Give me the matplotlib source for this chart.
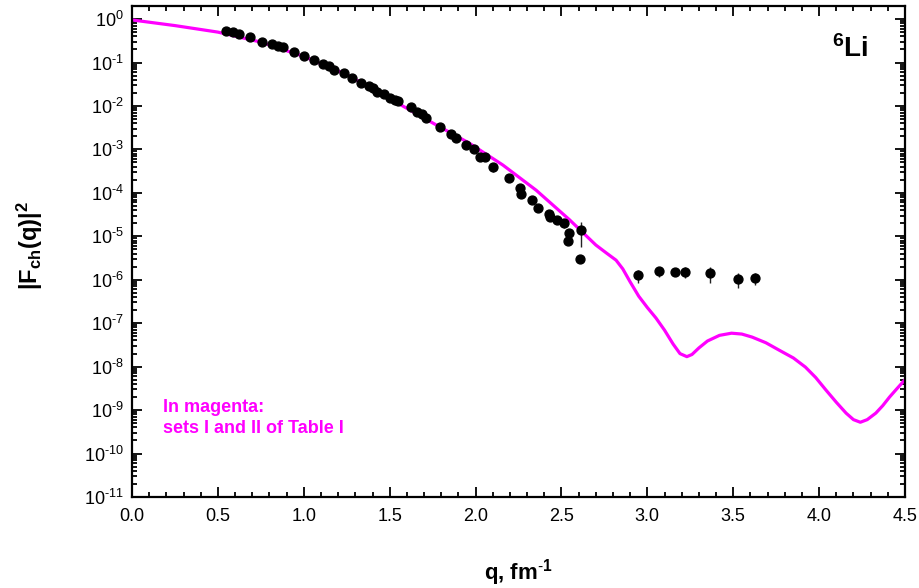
import matplotlib
matplotlib.use("Agg")
import matplotlib.pyplot as plt
import numpy as np
from matplotlib.ticker import FixedLocator, MultipleLocator, LogLocator, FuncFormatter, NullFormatter

plt.rcParams['font.family'] = ['Liberation Sans', 'DejaVu Sans']
plt.rcParams['mathtext.fontset'] = 'custom'
plt.rcParams['mathtext.rm'] = 'Liberation Sans'
plt.rcParams['mathtext.it'] = 'Liberation Sans:italic'
plt.rcParams['mathtext.bf'] = 'Liberation Sans:bold'
plt.rcParams['mathtext.default'] = 'regular'

# Theory curve (sets I and II of Table I), log10 |F|^2
curve_q = [0.00, 0.25, 0.50, 0.75, 1.00, 1.25, 1.50, 1.75, 1.965, 2.159, 2.353, 2.547,
           2.605, 2.70, 2.76, 2.818, 2.857, 2.90, 2.95, 3.00, 3.05, 3.10, 3.15, 3.19,
           3.23, 3.26, 3.30, 3.35, 3.42, 3.49, 3.55, 3.61, 3.69, 3.767, 3.85, 3.92,
           3.98, 4.04, 4.10, 4.157, 4.20, 4.24, 4.28, 4.33, 4.37, 4.41, 4.45, 4.50]
curve_log = [-0.02, -0.15, -0.30, -0.53, -0.86, -1.28, -1.83, -2.39, -2.86, -3.36, -3.94, -4.62,
             -4.84, -5.20, -5.38, -5.55, -5.75, -6.05, -6.38, -6.64, -6.88, -7.16, -7.48, -7.70,
             -7.77, -7.72, -7.57, -7.41, -7.28, -7.23, -7.25, -7.32, -7.45, -7.62, -7.80, -8.01,
             -8.25, -8.54, -8.82, -9.07, -9.22, -9.28, -9.22, -9.07, -8.90, -8.70, -8.52, -8.30]

# Experimental data, log10 |F|^2
data_q = [0.550, 0.589, 0.622, 0.688, 0.754, 0.816, 0.851, 0.880, 0.942, 1.000, 1.060, 1.109,
          1.147, 1.173, 1.235, 1.279, 1.331, 1.380, 1.403, 1.426, 1.465, 1.504, 1.529, 1.548,
          1.622, 1.659, 1.690, 1.709, 1.791, 1.859, 1.888, 1.946, 1.988, 2.027, 2.052, 2.101,
          2.194, 2.256, 2.266, 2.330, 2.362, 2.426, 2.434, 2.473, 2.517, 2.543, 2.539, 2.616,
          2.610, 2.944, 3.070, 3.163, 3.221, 3.366, 3.527, 3.628]
data_log = [-0.269, -0.307, -0.353, -0.422, -0.522, -0.575, -0.614, -0.652, -0.767, -0.844, -0.951, -1.036,
            -1.074, -1.174, -1.250, -1.350, -1.480, -1.535, -1.595, -1.673, -1.733, -1.825, -1.864, -1.887,
            -2.033, -2.133, -2.186, -2.286, -2.478, -2.647, -2.746, -2.900, -2.999, -3.169, -3.183, -3.399,
            -3.652, -3.897, -4.028, -4.166, -4.350, -4.488, -4.564, -4.626, -4.702, -4.932, -5.102, -4.856,
            -5.531, -5.892, -5.800, -5.815, -5.830, -5.853, -5.976, -5.961]

# Error bars (log10 of upper / lower ends)
err_q = [2.101, 2.517, 2.616, 2.944, 3.070, 3.163, 3.221, 3.366, 3.527, 3.628]
err_hi = [-3.36, -4.66, -4.665, -5.777, -5.700, -5.740, -5.715, -5.715, -5.839, -5.853]
err_lo = [-3.51, -4.82, -5.254, -6.069, -5.945, -5.915, -5.968, -6.083, -6.198, -6.122]

ytick_exp = list(range(0, -12, -1))
xtick_vals = [0.0, 0.5, 1.0, 1.5, 2.0, 2.5, 3.0, 3.5, 4.0, 4.5]

magenta = '#FF00FF'


def ylab(v, p):
    e = int(round(np.log10(v)))
    if e < 0:
        return r'$10^{\text{-}%d}$' % (-e)
    return r'$10^{%d}$' % e


fig = plt.figure(figsize=(9.2, 5.88), dpi=100)
ax = fig.add_axes([0.1435, 0.1548, 0.8402, 0.835])

ax.plot(curve_q, 10.0 ** np.array(curve_log), color=magenta, lw=2.3, zorder=2)

for q, hi, lo in zip(err_q, err_hi, err_lo):
    ax.vlines(q, 10.0 ** lo, 10.0 ** hi, color='#222222', lw=1.0, zorder=3)
ax.plot(data_q, 10.0 ** np.array(data_log), 'o', color='black', ms=6.4, mec='black', zorder=4)

ax.set_yscale('log')
ax.set_xlim(0, 4.5)
ax.set_ylim(1e-11, 2.0)

ax.xaxis.set_major_locator(FixedLocator(xtick_vals))
ax.xaxis.set_minor_locator(MultipleLocator(0.1))
ax.xaxis.set_major_formatter(FuncFormatter(lambda v, p: f"{v:.1f}"))
ax.yaxis.set_major_locator(FixedLocator([10.0 ** e for e in ytick_exp]))
ax.yaxis.set_minor_locator(LogLocator(base=10, subs=np.arange(2, 10), numticks=100))
ax.yaxis.set_minor_formatter(NullFormatter())
ax.yaxis.set_major_formatter(FuncFormatter(ylab))

ax.tick_params(which='both', direction='in', top=True, right=True, width=1.3, colors='black')
ax.tick_params(which='major', length=7, labelsize=13)
ax.tick_params(axis='x', which='major', pad=8)
ax.tick_params(axis='y', which='major', pad=6)
ax.tick_params(which='minor', length=3.5)
for s in ax.spines.values():
    s.set_linewidth(1.6)

ax.set_xlabel(r'q, fm$^{\mathbf{\text{-}1}}$', fontsize=16, fontweight='bold')
ax.xaxis.set_label_coords(0.5, -0.122)
ax.set_ylabel(r'$\mathbf{|F_{ch}(q)|^{2}}$', fontsize=17)
ax.yaxis.set_label_coords(-0.112, 0.513)

ax.text(0.905, 0.896, r'$\mathbf{^{6}Li}$', transform=ax.transAxes, fontsize=20,
        ha='left', va='baseline')
ax.text(0.040, 0.174, 'In magenta:', transform=ax.transAxes, fontsize=13,
        fontweight='bold', color=magenta, ha='left', va='baseline')
ax.text(0.040, 0.130, 'sets I and II of Table I', transform=ax.transAxes, fontsize=13,
        fontweight='bold', color=magenta, ha='left', va='baseline')

fig.savefig('out.png', dpi=100)
